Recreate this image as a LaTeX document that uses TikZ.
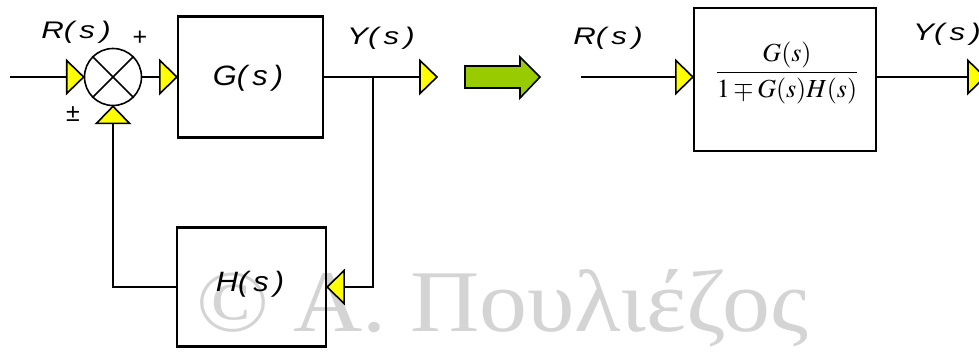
\documentclass[tikz,border=0pt]{standalone}
\usepackage{mathptmx}
\usepackage[no-math]{fontspec}
\setmainfont{Liberation Sans}
\newfontfamily\serifgr{Liberation Serif}
\usepackage{graphicx}
\definecolor{tipyellow}{HTML}{FFFF00}
\definecolor{arrowgreen}{HTML}{99CC00}
\definecolor{wmgray}{HTML}{D4D4D4}
% signal labels are set slightly widened
\newcommand{\widelbl}[1]{\scalebox{1.3}[1]{#1}}
\newcommand{\boxlbl}[1]{\scalebox{1.1}[1]{#1}}
\begin{document}
\begin{tikzpicture}[x=1pt,y=-1pt,
  wire/.style={line width=2.2pt},
  blk/.style={draw,line width=2.2pt,inner sep=0pt},
  tri/.style={fill=tipyellow,draw=black,line width=1.6pt,line join=miter},
  lbl/.style={font=\fontsize{24}{28}\selectfont\itshape,inner sep=0pt},
  sgn/.style={font=\fontsize{25}{29}\selectfont,inner sep=0pt},
  blktext/.style={font=\fontsize{28}{33}\selectfont\itshape,inner sep=0pt},
  flowtip/.pic={\filldraw[tri] (0,0) -- (-17,-16.5) -- (-17,16.5) -- cycle;}
]
\clip (0,0) rectangle (979,351);
\useasboundingbox (0,0) rectangle (979,351);

% watermark behind the diagram
\node[anchor=base west,inner sep=0pt,text=wmgray,
      font=\serifgr\fontsize{88}{92}\selectfont] (wm) at (196,331)
      {\scalebox{1.09}[1]{© Α. Πουλιέζος}};

% ---- closed loop ----
\node[circle,draw,line width=1.6pt,minimum size=57pt,inner sep=0pt] (sum) at (113,77) {};
\draw[line width=1.6pt] (sum.45) -- (sum.225) (sum.135) -- (sum.315);

\node[blk,minimum width=145pt,minimum height=121pt] (G) at (250.5,77) {};
\node[blktext] (Gt) at (248,78) {\boxlbl{G(\,s\,)}};
\node[blk,minimum width=149pt,minimum height=119pt] (H) at (251.5,287) {};
\node[blktext] (Ht) at (250,284) {\boxlbl{H(\,s\,)}};

\coordinate (rin) at (10,77);
\coordinate (yout) at (437,77);
\coordinate (br) at (373,77);

\draw[wire] (rin) -- (sum.west);
\draw[wire] (sum.east) -- (G.west);
\draw[wire] (G.east) -- (yout);
\draw[wire] (br) |- (H.east);
\draw[wire] (H.west) -| (sum.south);

\pic at (sum.west) {flowtip};
\pic at (G.west) {flowtip};
\pic at (yout) {flowtip};
\pic[rotate=180] at (H.east) {flowtip};
\pic[rotate=90] at (sum.south) {flowtip};

\node[lbl] (lr) at (76,32) {\widelbl{R(\,s\,)}};
\node[lbl] (ly) at (381,38) {\widelbl{Y(\,s\,)}};
\node[sgn] (plus) at (140,38) {+};
\node[sgn] (pm) at (73,114) {±};

% ---- equivalence arrow ----
\filldraw[fill=arrowgreen,draw=black,line width=1.6pt,line join=miter]
  (465,66) -- (520,66) -- (520,57) -- (540,77) -- (520,98) -- (520,88) -- (465,88) -- cycle;

% ---- reduced system ----
\node[blk,minimum width=182pt,minimum height=143pt] (F) at (785,79.5) {};
\node[inner sep=0pt,font=\fontsize{26}{31}\selectfont] (frac) at (787,73)
  {$\displaystyle\frac{G(s)}{1\mp G(s)H(s)}$};

\coordinate (rin2) at (581,77);
\coordinate (yout2) at (985,77);
\draw[wire] (rin2) -- (rin2 -| F.west);
\draw[wire] (yout2 -| F.east) -- (yout2);
\pic at (rin2 -| F.west) {flowtip};
\pic at (yout2) {flowtip};

\node[lbl] (lr2) at (608,38) {\widelbl{R(\,s\,)}};
\node[lbl] (ly2) at (947,34) {\widelbl{Y(\,s\,)}};
\end{tikzpicture}
\end{document}
